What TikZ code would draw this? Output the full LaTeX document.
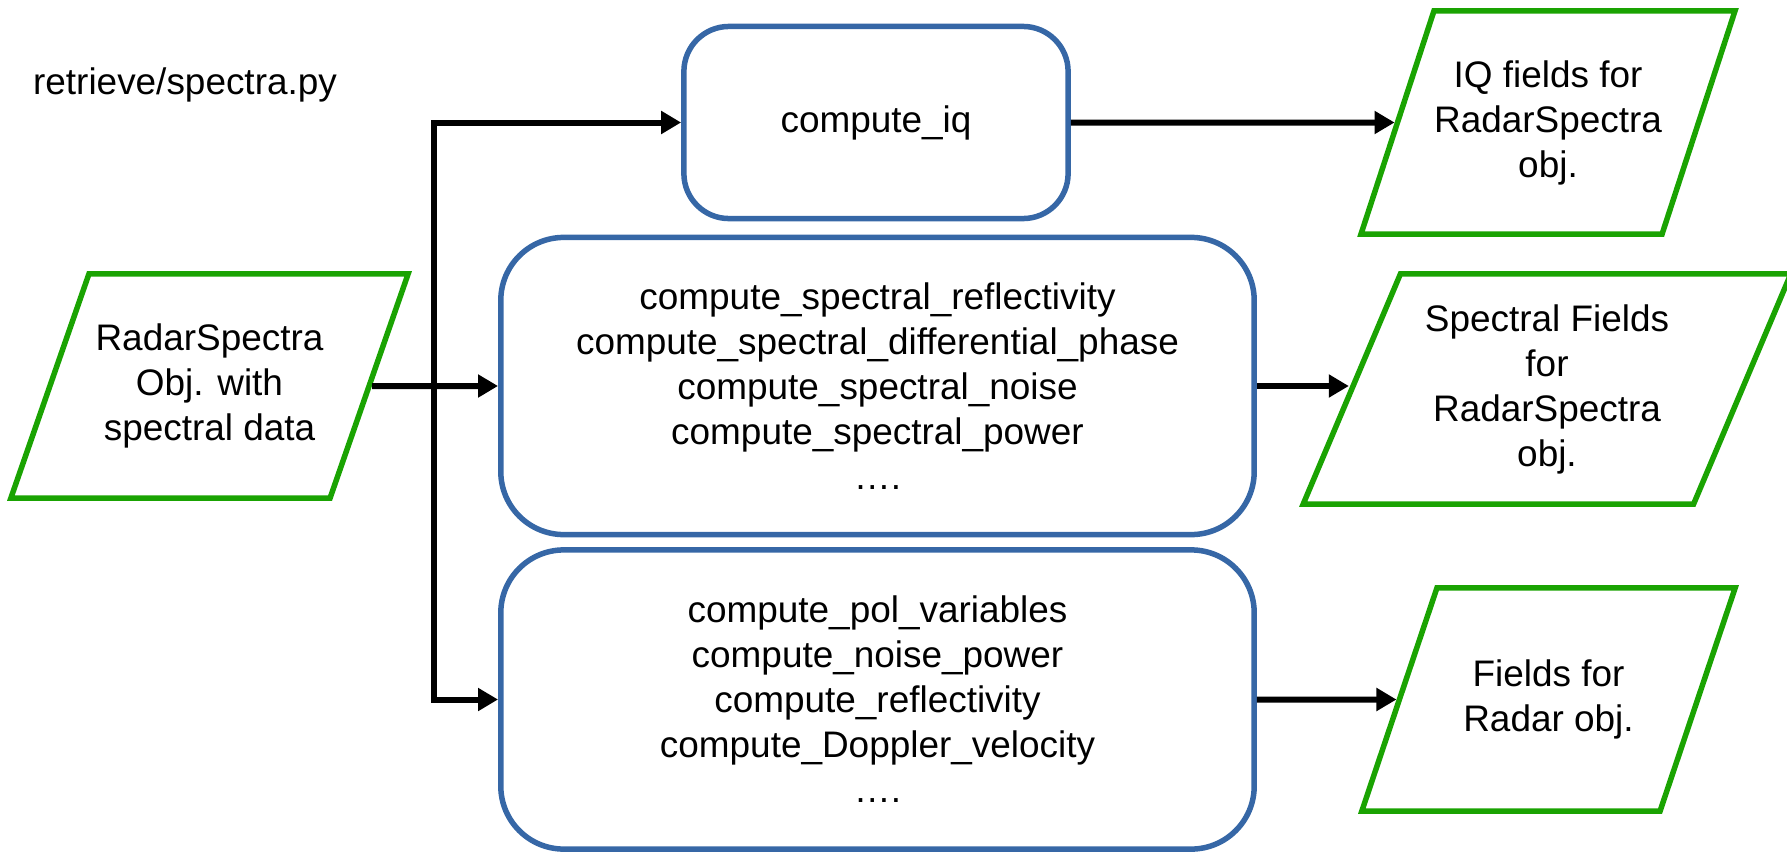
\documentclass[tikz,border=0pt]{standalone}
\usepackage{fontspec}
\setmainfont{Liberation Sans}
\usepackage{xcolor}
\usetikzlibrary{shapes.geometric,arrows.meta}

\definecolor{datagreen}{RGB}{26,163,2}
\definecolor{funcblue}{RGB}{54,103,166}

% 平行四边形内的文字块: 宽, 高, 文字
\newcommand{\datatext}[3]{\parbox[c][#2][c]{#1}{\centering #3}}

\tikzset{
	databox/.style={trapezium, draw=datagreen, line width=0.055cm, trapezium left angle=#1, trapezium right angle=180-#1, inner sep=0pt},
	funcbox/.style={rectangle, rounded corners=#1, draw=funcblue, line width=0.055cm, align=center, inner sep=0pt},
	funcbox/.default=0.45cm,
	flow/.style={line width=0.06cm, -{Triangle[length=0.2cm,width=0.22cm]}}
}

\begin{document}
\begin{tikzpicture}[x=0.01cm, y=-0.01cm, font=\fontsize{10.5pt}{12.8pt}\selectfont]
			% 画布大小
			\useasboundingbox (0,0) rectangle (1787,851);
			% 文件名
			\node (title) at (185,85) {retrieve/spectra.py};
			% 输入数据
			\node[databox=70.8] (in) at (209.5,386) {\datatext{2.41cm}{2.24cm}{RadarSpectra\\Obj. with\\spectral data}};
			% 计算函数
			\node[funcbox, minimum width=3.84cm, minimum height=1.92cm] (iq) at (876,122.5) {compute\_iq};
			\node[funcbox=0.63cm, minimum width=7.53cm, minimum height=2.97cm] (spec) at (877.5,386) {compute\_spectral\_reflectivity\\compute\_spectral\_differential\_phase\\compute\_spectral\_noise\\compute\_spectral\_power\\….};
			\node[funcbox=0.63cm, minimum width=7.53cm, minimum height=2.99cm] (pol) at (877.5,699.5) {compute\_pol\_variables\\compute\_noise\_power\\compute\_reflectivity\\compute\_Doppler\_velocity\\….};
			% 输出数据
			\node[databox=71.9] (iqout) at (1548,122.5) {\datatext{2.28cm}{2.23cm}{IQ fields for\\RadarSpectra\\obj.}};
			\node[databox=67.1] (specout) at (1547,389) {\datatext{2.93cm}{2.30cm}{Spectral Fields\\for\\RadarSpectra\\obj.}};
			\node[databox=71.4] (polout) at (1548.5,699.5) {\datatext{2.23cm}{2.23cm}{Fields for\\Radar obj.}};
			% 分支点
			\coordinate (split) at (434,386);
			% 连线
			\draw[flow] (in.east) -- (spec.west);
			\draw[flow] (split) |- (iq.west);
			\draw[flow] (split) |- (pol.west);
			\draw[flow] (iq.east) -- (iqout.west);
			\draw[flow] (spec.east) -- (spec.east -| specout.west);
			\draw[flow] (pol.east) -- (polout.west);
		\end{tikzpicture}
\end{document}
